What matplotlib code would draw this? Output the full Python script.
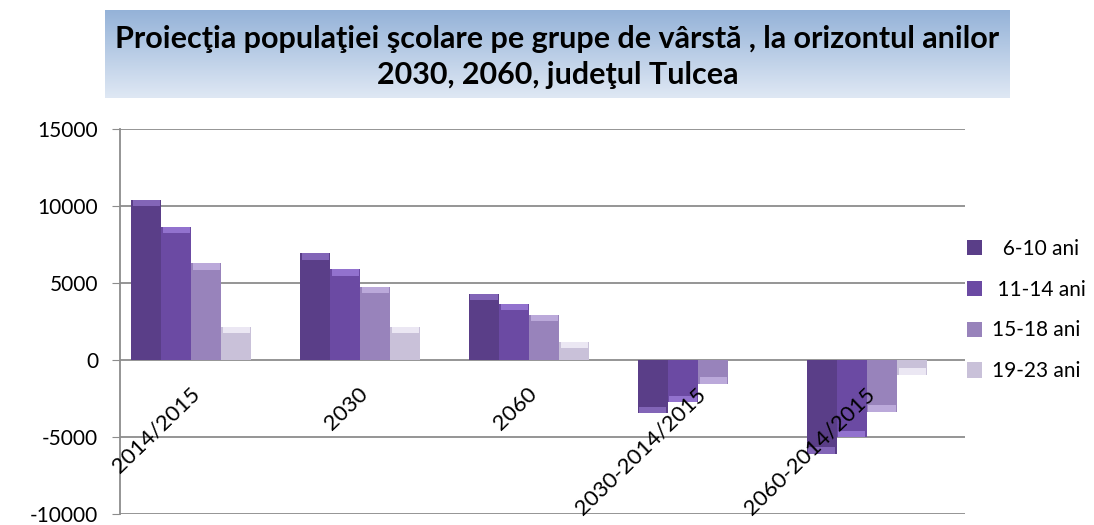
import numpy as np
import matplotlib.pyplot as plt
from matplotlib.colors import LinearSegmentedColormap

plt.rcParams['font.family'] = ['Lato', 'DejaVu Sans']
plt.rcParams['axes.unicode_minus'] = False

categories = ["2014/2015", "2030", "2060", "2030-2014/2015", "2060-2014/2015"]
series = ["  6-10 ani", " 11-14 ani", "15-18 ani", "19-23 ani"]
v_6_10 = [10400, 6950, 4300, -3450, -6100]
v_11_14 = [8650, 5900, 3650, -2750, -5000]
v_15_18 = [6300, 4750, 2950, -1550, -3350]
v_19_23 = [2150, 2150, 1200, 0, -950]
values = [v_6_10, v_11_14, v_15_18, v_19_23]
colors = ["#5a3e88", "#6b4aa3", "#9883bb", "#c9c1d9"]
tops = ["#8a6cc0", "#9a7ad6", "#c2b0e0", "#f2eef8"]

fig = plt.figure(figsize=(10.94, 5.25), dpi=100)
ax = fig.add_axes([0.110, 0.021, 0.772, 0.733])

# title box with gradient
tax = fig.add_axes([0.096, 0.813, 0.827, 0.168])
grad = np.linspace(0, 1, 100).reshape(-1, 1)
tax.imshow(grad, aspect='auto', extent=[0, 1, 0, 1],
           cmap=LinearSegmentedColormap.from_list("t", ["#94b2d8", "#dfe8f4"]))
tax.set_axis_off()
tax.text(0.5, 0.47, "Proiecţia populaţiei şcolare pe grupe de vârstă , la orizontul anilor\n2030, 2060, judeţul Tulcea",
         ha='center', va='center', fontsize=22, fontweight='bold', linespacing=1.36)

x = np.arange(len(categories))
w = 0.178
for i, (vals, c, tc, lab) in enumerate(zip(values, colors, tops, series)):
    pos = x - 1.5 * w + i * w - 0.08
    ax.bar(pos, vals, w, color=c, linewidth=0, label=lab, zorder=3)
    # bevel highlight near the outer end
    for p, v in zip(pos, vals):
        if v == 0:
            continue
        h = 420 if v > 0 else -420
        ax.bar(p, h, w * 0.9, bottom=v - h, color=tc, linewidth=0, zorder=4, alpha=0.85)

ax.set_ylim(-10000, 15000)
ax.set_xlim(-0.5, 4.5)
ax.set_yticks(range(-10000, 15001, 5000))
ax.yaxis.grid(True, color="#8c8c8c", linewidth=1.3, zorder=0)
ax.set_xticks([])
for s in ["top", "right", "bottom"]:
    ax.spines[s].set_visible(False)
ax.spines["left"].set_color("#8c8c8c")
ax.spines["left"].set_linewidth(1.3)
ax.tick_params(axis='y', labelsize=15, length=6, pad=10, color="#8c8c8c", direction='out')

for xi, lab in zip(x, categories):
    ax.text(xi - 0.05, -2000, lab, rotation=44, rotation_mode='anchor',
            ha='right', va='center', fontsize=16, zorder=5)

ax.legend(loc='center left', bbox_to_anchor=(0.98, 0.53), frameon=False,
          fontsize=15, handlelength=0.75, handleheight=0.75, handletextpad=0.45,
          labelspacing=1.0)

fig.savefig("out.png", dpi=100)
